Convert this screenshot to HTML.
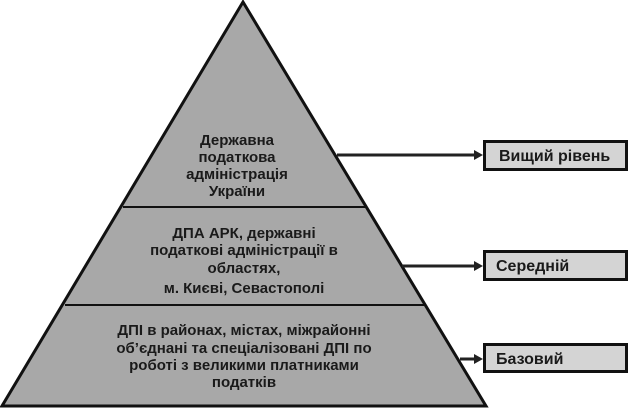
<!DOCTYPE html>
<html><head><meta charset="utf-8"><style>
html,body{margin:0;padding:0;background:#fff;}
body{width:631px;height:409px;overflow:hidden;}
text{font-family:"Liberation Sans",sans-serif;font-weight:bold;font-size:15px;fill:#1a1a1a;}
</style></head><body>
<svg width="631" height="409" viewBox="0 0 631 409" xmlns="http://www.w3.org/2000/svg">
<polygon points="243,2 486,406 2,406" fill="#a8a8a8" stroke="#111" stroke-width="3"/>
<line x1="123" y1="207" x2="366" y2="207" stroke="#111" stroke-width="2"/>
<line x1="65" y1="305" x2="424" y2="305" stroke="#111" stroke-width="2"/>
<g text-anchor="middle">
<text x="237" y="145">Державна</text>
<text x="237" y="162">податкова</text>
<text x="237" y="179">адміністрація</text>
<text x="237" y="196">України</text>
<text x="244" y="238">ДПА АРК, державні</text>
<text x="244" y="255">податкові адміністрації в</text>
<text x="244" y="273">областях,</text>
<text x="244" y="293">м. Києві, Севастополі</text>
<text x="244" y="335">ДПІ в районах, містах, міжрайонні</text>
<text x="244" y="353">об’єднані та спеціалізовані ДПІ по</text>
<text x="244" y="370">роботі з великими платниками</text>
<text x="244" y="387">податків</text>
</g>
<g stroke="#222" stroke-width="3">
<line x1="337" y1="155" x2="476" y2="155"/>
<line x1="402" y1="266" x2="476" y2="266"/>
<line x1="460" y1="359" x2="476" y2="359"/>
</g>
<g fill="#222">
<polygon points="474,150 483,155 474,160"/>
<polygon points="474,261 483,266 474,271"/>
<polygon points="474,354 483,359 474,364"/>
</g>
<g fill="#d4d4d4" stroke="#111" stroke-width="3">
<rect x="484.5" y="141.5" width="142" height="28"/>
<rect x="484.5" y="251.5" width="142" height="28"/>
<rect x="484.5" y="344.5" width="142" height="27"/>
</g>
<text x="499" y="161" style="font-size:16px">Вищий рівень</text>
<text x="496" y="271" style="font-size:16px">Середній</text>
<text x="496" y="364" style="font-size:16px">Базовий</text>
</svg>
</body></html>
